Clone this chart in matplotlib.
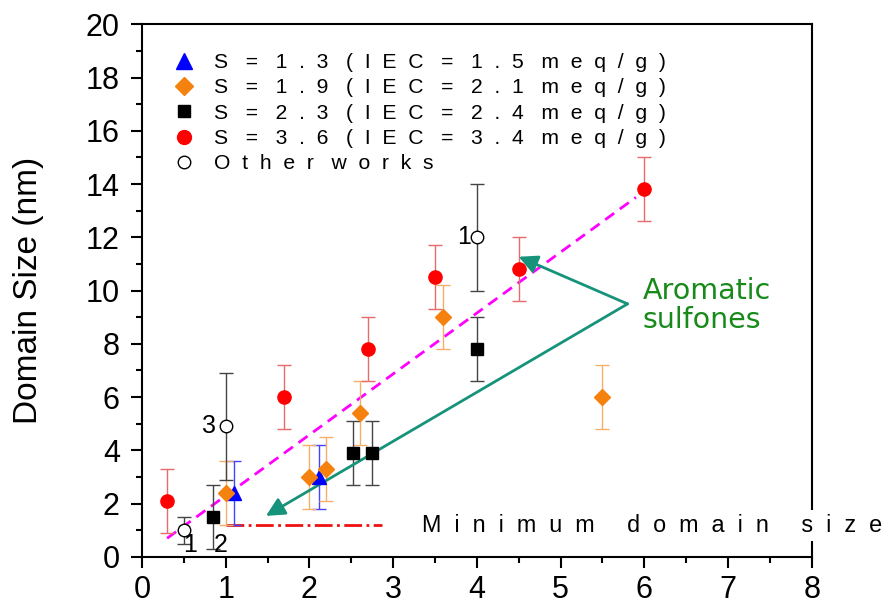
import numpy as np
import matplotlib
matplotlib.use("Agg")
import matplotlib.pyplot as plt
from matplotlib.ticker import MultipleLocator
from matplotlib.lines import Line2D

plt.rcParams['font.family'] = ['Liberation Sans', 'DejaVu Sans']

# S = 1.3 (blue triangles)
s13_x = [1.1, 2.12]
s13_y = [2.4, 3.0]
s13_err = [1.2, 1.2]

# S = 1.9 (orange diamonds)
s19_x = [1.0, 2.0, 2.2, 2.6, 3.6, 5.5]
s19_y = [2.4, 3.0, 3.3, 5.4, 9.0, 6.0]
s19_err = [1.2, 1.2, 1.2, 1.2, 1.2, 1.2]

# S = 2.3 (black squares)
s23_x = [0.85, 2.52, 2.75, 4.0]
s23_y = [1.5, 3.9, 3.9, 7.8]
s23_err = [1.2, 1.2, 1.2, 1.2]

# S = 3.6 (red circles)
s36_x = [0.3, 1.7, 2.7, 3.5, 4.5, 6.0]
s36_y = [2.1, 6.0, 7.8, 10.5, 10.8, 13.8]
s36_err = [1.2, 1.2, 1.2, 1.2, 1.2, 1.2]

# other works (open circles)
other_x = [0.5, 1.0, 4.0]
other_y = [1.0, 4.9, 12.0]
other_err = [0.5, 2.0, 2.0]
ref_labels = ["1", "2", "3", "1"]
ref_x = [0.58, 0.94, 0.80, 3.85]
ref_y = [0.44, 0.44, 4.9, 12.0]

trend_x = [0.3, 5.9]
trend_y = [0.7, 13.5]

min_x = [1.0, 2.87]
min_y = [1.2, 1.2]

leg_labels = ["S = 1.3 (IEC = 1.5 meq/g)", "S = 1.9 (IEC = 2.1 meq/g)",
              "S = 2.3 (IEC = 2.4 meq/g)", "S = 3.6 (IEC = 3.4 meq/g)", "Other works"]


def spaced(s, gap=2, wgap=3):
    # wide letter spacing like the original figure
    return (" " * wgap).join((" " * gap).join(w) for w in s.split(" "))


fig = plt.figure(figsize=(8.93, 6.06), dpi=100)
ax = fig.add_axes([0.159, 0.081, 0.75, 0.879])

ax.plot(trend_x, trend_y, color='#ff00ff', linestyle=(0, (4, 2.5)), linewidth=2, zorder=2)
ax.plot(min_x, min_y, color='#ee1111', linestyle='-.', linewidth=2, zorder=2)

ebkw = dict(linestyle='none', capsize=5, elinewidth=1, capthick=1, zorder=3)
ax.errorbar(s13_x, s13_y, yerr=s13_err, marker='^', ms=10, color='#0000ff', ecolor='#4444ff', **ebkw)
ax.errorbar(s19_x, s19_y, yerr=s19_err, marker='D', ms=8.5, color='#f5820f', ecolor='#f5ae6a', **ebkw)
ax.errorbar(s23_x, s23_y, yerr=s23_err, marker='s', ms=9, color='black', ecolor='#444444', **ebkw)
ax.errorbar(s36_x, s36_y, yerr=s36_err, marker='o', ms=9.5, color='#ff0000', ecolor='#e86a6a', **ebkw)
ax.errorbar(other_x, other_y, yerr=other_err, marker='o', ms=9, color='black', mfc='white', mec='black', mew=1,
            ecolor='#444444', **ebkw)

for lab, lx, ly in zip(ref_labels, ref_x, ref_y):
    ax.text(lx, ly, lab, fontsize=18, ha='center', va='center')

# arrows to aromatic sulfones
arrow_start = (5.8, 9.5)
for tgt in [(4.5, 11.27), (1.48, 1.54)]:
    ax.annotate('', xy=tgt, xytext=arrow_start,
                arrowprops=dict(arrowstyle='-|>', color='#16937a', lw=2, mutation_scale=28, shrinkA=0, shrinkB=0))
ax.text(5.98, 9.43, "Aromatic\nsulfones", color='#178a1a', fontsize=20.5, family='DejaVu Sans',
        ha='left', va='center', linespacing=1.05)

ax.text(3.35, 0.94, spaced("Minimum domain size", 2, 5), fontsize=16.8, ha='left', va='baseline', clip_on=False, zorder=6,
        bbox=dict(facecolor='white', edgecolor='none', pad=3))

ax.set_xlim(0, 8)
ax.set_ylim(0, 20)
ax.xaxis.set_major_locator(MultipleLocator(1))
ax.xaxis.set_minor_locator(MultipleLocator(0.5))
ax.yaxis.set_major_locator(MultipleLocator(2))
ax.yaxis.set_minor_locator(MultipleLocator(1))
ax.tick_params(which='major', direction='out', length=8, width=1.5, labelsize=22, pad=5)
ax.tick_params(which='minor', direction='out', length=4, width=1.5)
ax.tick_params(axis='y', which='major', pad=8)
for sp in ax.spines.values():
    sp.set_linewidth(1.5)
ax.set_ylabel("Domain Size (nm)", fontsize=24, labelpad=30)

handles = [
    Line2D([], [], ls='none', marker='^', ms=11, color='#0000ff'),
    Line2D([], [], ls='none', marker='D', ms=9, color='#f5820f'),
    Line2D([], [], ls='none', marker='s', ms=9, color='black'),
    Line2D([], [], ls='none', marker='o', ms=10, color='#ff0000'),
    Line2D([], [], ls='none', marker='o', ms=9, color='black', mfc='white', mew=1),
]
ax.legend(handles, [spaced(s) for s in leg_labels], loc='upper left', bbox_to_anchor=(0.035, 0.962),
          frameon=False, fontsize=15.2, handletextpad=0.9, labelspacing=0.3, handlelength=1.0,
          borderaxespad=0)

fig.savefig("out.png", dpi=100)
